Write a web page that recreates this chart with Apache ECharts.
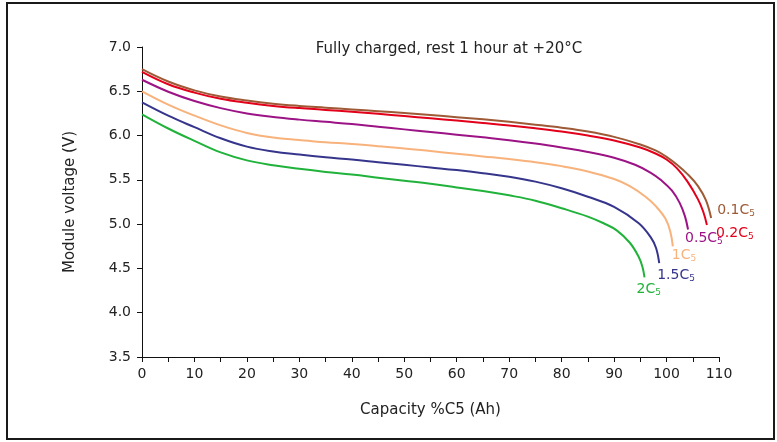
<!DOCTYPE html>
<html>
<head>
<meta charset="utf-8">
<script src="https://cdn.jsdelivr.net/npm/echarts@6/dist/echarts.min.js"></script>
<style>html,body{margin:0;padding:0;background:#fff;}#c{width:777px;height:442px;}</style>
</head>
<body>
<div id="c"></div>
<script>
// Data: [capacity %C5, module voltage V]
var seriesNames = ['0.1C', '0.2C', '0.5C', '1C', '1.5C', '2C'];
var c01 = [[0,6.75],[5,6.61],[10,6.51],[15,6.44],[20,6.395],[25,6.36],[30,6.335],[35,6.315],[40,6.295],[45,6.275],[50,6.255],[55,6.232],[60,6.208],[65,6.183],[70,6.155],[75,6.123],[80,6.088],[85,6.045],[90,5.985],[95,5.90],[98,5.83],[100,5.76],[102,5.67],[104,5.565],[106,5.43],[107.5,5.27],[108.5,5.07]];
var c02 = [[0,6.72],[5,6.58],[10,6.485],[15,6.415],[20,6.37],[25,6.335],[30,6.31],[35,6.29],[40,6.268],[45,6.245],[50,6.22],[55,6.195],[60,6.17],[65,6.143],[70,6.115],[75,6.082],[80,6.045],[85,6.0],[90,5.945],[95,5.865],[98,5.795],[100,5.73],[102,5.63],[104,5.48],[106,5.28],[107,5.14],[107.7,4.99]];
var c05 = [[0,6.63],[5,6.495],[10,6.39],[15,6.31],[20,6.25],[25,6.21],[30,6.18],[35,6.155],[40,6.13],[45,6.10],[50,6.07],[55,6.04],[60,6.01],[65,5.98],[70,5.948],[75,5.91],[80,5.865],[85,5.815],[90,5.75],[94,5.67],[97,5.58],[99,5.495],[101,5.38],[102.5,5.24],[103.5,5.09],[104.1,4.94]];
var c1 = [[0,6.50],[5,6.35],[10,6.225],[15,6.115],[20,6.03],[25,5.978],[30,5.95],[35,5.925],[40,5.905],[45,5.88],[50,5.855],[55,5.825],[60,5.795],[65,5.765],[70,5.735],[75,5.70],[80,5.655],[85,5.595],[90,5.51],[93,5.43],[96,5.31],[98,5.20],[99.8,5.06],[100.7,4.92],[101.2,4.75]];
var c15 = [[0,6.375],[5,6.225],[10,6.095],[15,5.97],[20,5.875],[25,5.82],[30,5.785],[35,5.755],[40,5.73],[45,5.70],[50,5.67],[55,5.64],[60,5.61],[65,5.575],[70,5.535],[75,5.48],[80,5.405],[85,5.31],[90,5.195],[94.7,5.01],[97,4.85],[98,4.73],[98.6,4.56]];
var c2 = [[0,6.24],[5,6.08],[10,5.94],[15,5.81],[20,5.72],[25,5.665],[30,5.625],[35,5.59],[40,5.56],[45,5.525],[50,5.49],[55,5.455],[60,5.415],[65,5.375],[70,5.325],[75,5.265],[80,5.18],[85,5.085],[88,5.01],[90.5,4.93],[93,4.79],[94.7,4.63],[95.4,4.52],[95.8,4.40]];
var seriesData = [c01, c02, c05, c1, c15, c2];
var colors = ['#9e5a36', '#e2001a', '#9c1386', '#f8b27c', '#36358c', '#20b23a'];
var labelOffsets = [[-2,-8],[1,8],[-11,9],[-9,9],[-10,12],[-16,12]];
var xTicks = [0,10,20,30,40,50,60,70,80,90,100,110];

var FONT = '"DejaVu Sans", sans-serif';
var chart = echarts.init(document.getElementById('c'));
var series = seriesNames.map(function (n, i) {
  return {
    type: 'line',
    name: n + '5',
    data: seriesData[i],
    smooth: 0.4,
    showSymbol: false,
    symbol: 'none',
    lineStyle: { color: colors[i], width: 2 },
    itemStyle: { color: colors[i] },
    endLabel: {
      show: true,
      offset: labelOffsets[i],
      formatter: function () { return '{a|' + n + '}{s|5}'; },
      rich: {
        a: { fontFamily: FONT, fontSize: 14, color: colors[i] },
        s: { fontFamily: FONT, fontSize: 9, color: colors[i], padding: [7, 0, 0, 0] }
      }
    }
  };
});

chart.setOption({
  backgroundColor: '#fff',
  animation: false,
  title: {
    text: 'Fully charged, rest 1 hour at +20°C',
    left: 444, top: 37, textAlign: 'center',
    textStyle: { fontFamily: FONT, fontSize: 15, fontWeight: 'normal', color: '#222' }
  },
  grid: { left: 142, right: 58, top: 47, bottom: 85 },
  xAxis: {
    type: 'value', min: 0, max: 110, interval: 10,
    name: 'Capacity %C5 (Ah)', nameLocation: 'middle', nameGap: 46,
    nameTextStyle: { fontFamily: FONT, fontSize: 15, color: '#222' },
    axisLine: { show: true, lineStyle: { color: '#111', width: 1 } },
    axisTick: { show: true, length: 5, lineStyle: { color: '#111' } },
    minorTick: { show: true, splitNumber: 2, length: 5, lineStyle: { color: '#111' } },
    axisLabel: { fontFamily: FONT, fontSize: 14, color: '#222', margin: 10,
      formatter: function (v) { return xTicks.indexOf(v) >= 0 ? String(v) : ''; } },
    splitLine: { show: false }
  },
  yAxis: {
    type: 'value', min: 3.5, max: 7.0, interval: 0.5,
    name: 'Module voltage (V)', nameLocation: 'middle', nameGap: 64,
    nameTextStyle: { fontFamily: FONT, fontSize: 15, color: '#222' },
    axisLine: { show: true, lineStyle: { color: '#111', width: 1 } },
    axisTick: { show: true, length: 5, lineStyle: { color: '#111' } },
    axisLabel: { fontFamily: FONT, fontSize: 14, color: '#222', margin: 11,
      formatter: function (v) { return v.toFixed(1); } },
    splitLine: { show: false }
  },
  graphic: [{
    type: 'rect', silent: true, z: 100,
    shape: { x: 7, y: 3, width: 767, height: 436 },
    style: { fill: 'none', stroke: '#1a1a1a', lineWidth: 2 }
  }],
  series: series
});
</script>
</body>
</html>
